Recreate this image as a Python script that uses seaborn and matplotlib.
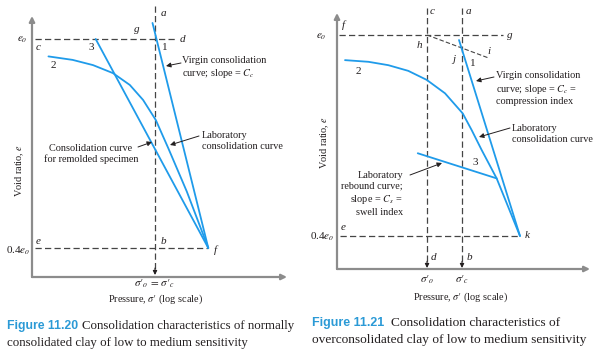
import matplotlib
matplotlib.use("Agg")
import matplotlib.pyplot as plt
import seaborn as sns

sns.set_style("white")
plt.rcParams["font.family"] = ["Liberation Serif", "DejaVu Serif"]
plt.rcParams["mathtext.fontset"] = "stix"

BLUE = "#1f9bea"
GRAY = "#8c8c8c"
DASH = "#454545"
INK = "#231f20"
CAP = "#2b9ad6"

# ---------------- data: Figure 11.20 (normally consolidated) ----------------
nc_pressure_lab = [8.6, 15, 24, 38, 56, 76, 102, 136, 208, 341]
nc_void_lab = [0.95, 0.94, 0.925, 0.902, 0.868, 0.825, 0.767, 0.686, 0.562, 0.40]
nc_pressure_virgin = [94.4, 341]
nc_void_virgin = [1.046, 0.40]
nc_pressure_remold = [25.5, 341]
nc_void_remold = [1.0, 0.40]
nc_sigma_c = 100
nc_e0 = 1.0
nc_e_low = 0.4

# ---------------- data: Figure 11.21 (overconsolidated) ----------------
oc_pressure_lab = [6.76, 11.6, 18.3, 29.0, 44.4, 67.6, 101.6, 125, 157, 222, 380]
oc_void_lab = [0.925, 0.920, 0.910, 0.893, 0.866, 0.826, 0.766, 0.716, 0.657, 0.572, 0.40]
oc_pressure_rebound = [36.1, 222]
oc_void_rebound = [0.647, 0.572]
oc_pressure_virgin = [93.3, 380]
oc_void_virgin = [0.985, 0.40]
oc_pressure_hi = [44.7, 186]
oc_void_hi = [1.0, 0.931]
oc_sigma_o = 44.7
oc_sigma_c = 100
oc_e0 = 1.0
oc_e_low = 0.4

W, H = 604, 357
fig = plt.figure(figsize=(W / 100, H / 100), dpi=100)

ANN = 7.4
LET = 8


def F(x, y):
    return (x / W, 1 - y / H)


def T(x, y, s, size=ANN, ha="center", va="center", **kw):
    fig.text(x / W, 1 - y / H, s, size=size, ha=ha, va=va, color=INK, **kw)


def arrow(x0, y0, x1, y1):
    fig.add_artist(matplotlib.patches.FancyArrowPatch(
        F(x0, y0), F(x1, y1), transform=fig.transFigure,
        arrowstyle="-|>", mutation_scale=7, color=INK, lw=0.7,
        shrinkA=0, shrinkB=0))


def setup(ax, xlim, ylim):
    ax.set_xscale("log")
    ax.set_xlim(*xlim)
    ax.set_ylim(*ylim)
    for s in ax.spines.values():
        s.set_visible(False)
    ax.set_xticks([])
    ax.set_yticks([])
    ax.minorticks_off()
    ax.patch.set_alpha(0)
    ap = dict(arrowstyle="-|>", color=GRAY, lw=1.6, mutation_scale=8,
              shrinkA=0, shrinkB=0)
    ax.annotate("", xy=(0, 1), xytext=(0, 0), xycoords="axes fraction",
                arrowprops=ap)
    ax.annotate("", xy=(1, 0), xytext=(0, 0), xycoords="axes fraction",
                arrowprops=ap)


def vline_arrow(ax, x, ytop, ytip):
    ax.plot([x, x], [ytop, ytip + 0.018], ls=(0, (5, 2.6)), color=DASH,
            lw=0.9, clip_on=False)
    ax.annotate("", xy=(x, ytip), xytext=(x, ytip + 0.02),
                arrowprops=dict(arrowstyle="-|>", color=INK, lw=0.8,
                                mutation_scale=6, shrinkA=0, shrinkB=0),
                annotation_clip=False)


def finish(ax):
    for l in ax.lines:
        l.set_clip_on(False)
    ax.set_xlabel("")
    ax.set_ylabel("")


SIG_O = r"$\sigma\prime_o$"
SIG_C = r"$\sigma\prime_c$"
SIG = r"$\sigma\prime$"

# ---------------- left panel ----------------
axL = fig.add_axes([32 / W, 1 - 277 / H, 255 / W, 261 / H])
setup(axL, (5.888, 2089), (0.3167, 1.066))
axL.plot([6.3, 162], [nc_e0, nc_e0], ls=(0, (5, 2.6)), color=DASH, lw=0.9)
axL.plot([6.3, nc_pressure_lab[-1]], [nc_e_low, nc_e_low], ls=(0, (5, 2.6)),
         color=DASH, lw=0.9)
vline_arrow(axL, nc_sigma_c, 1.095, 0.3224)
sns.lineplot(x=nc_pressure_lab, y=nc_void_lab, sort=False, estimator=None,
             color=BLUE, lw=1.3, ax=axL)
sns.lineplot(x=nc_pressure_virgin, y=nc_void_virgin, sort=False,
             estimator=None, color=BLUE, lw=1.3, ax=axL)
sns.lineplot(x=nc_pressure_remold, y=nc_void_remold, sort=False,
             estimator=None, color=BLUE, lw=1.3, ax=axL)
finish(axL)

T(22, 40, r"$e_o$", size=LET)
T(30, 251, r"0.4$e_o$", size=LET, ha="right")
for (x, y, s) in [(38, 47, "c"), (137, 30, "g"), (163, 14, "a"), (182, 39, "d"),
                  (38, 241, "e"), (163, 241, "b"), (215, 250, "f")]:
    T(x, y, s, size=LET, style="italic")
for (x, y, s) in [(91, 47, "3"), (53, 65, "2"), (165, 48, "1")]:
    T(x, y, s, size=LET)
T(182, 68, "Virgin consolidation\ncurve; slope = $C_c$", ha="left",
  linespacing=1.25)
arrow(181, 63, 166, 66)
T(202, 141, "Laboratory\nconsolidation curve", ha="left", linespacing=1.2)
arrow(199, 136, 170, 145)
T(91, 154, "Consolidation curve\nfor remolded specimen", linespacing=1.25)
arrow(138, 147, 152, 142)
T(20, 170, "Void ratio, $e$", rotation=90)
T(155, 284, r"$\sigma\prime_o\,=\,\sigma\prime_c$", size=LET)
T(155, 299, "Pressure, " + SIG + " (log scale)")

# ---------------- right panel ----------------
axR = fig.add_axes([337 / W, 1 - 269 / H, 253 / W, 256 / H])
setup(axR, (5.62, 1905), (0.3015, 1.0657))
axR.plot([5.9, 257], [oc_e0, oc_e0], ls=(0, (5, 2.6)), color=DASH, lw=0.9)
axR.plot([6.03, oc_pressure_lab[-1]], [oc_e_low, oc_e_low],
         ls=(0, (5, 2.6)), color=DASH, lw=0.9)
axR.plot(oc_pressure_hi, oc_void_hi, ls=(0, (4, 2)), color=DASH, lw=0.8)
vline_arrow(axR, oc_sigma_o, 1.081, 0.3045)
vline_arrow(axR, oc_sigma_c, 1.081, 0.3045)
sns.lineplot(x=oc_pressure_lab, y=oc_void_lab, sort=False, estimator=None,
             color=BLUE, lw=1.3, ax=axR)
sns.lineplot(x=oc_pressure_rebound, y=oc_void_rebound, sort=False,
             estimator=None, color=BLUE, lw=1.3, ax=axR)
sns.lineplot(x=oc_pressure_virgin, y=oc_void_virgin, sort=False,
             estimator=None, color=BLUE, lw=1.3, ax=axR)
finish(axR)

T(321, 37, r"$e_o$", size=LET)
T(334, 237, r"0.4$e_o$", size=LET, ha="right")
for (x, y, s) in [(343, 25, "f"), (432, 12, "c"), (468, 12, "a"), (510, 35, "g"),
                  (419, 46, "h"), (454, 59, "j"), (489, 52, "i"),
                  (343, 228, "e"), (527, 236, "k"), (433, 257, "d"),
                  (469, 257, "b")]:
    T(x, y, s, size=LET, style="italic")
for (x, y, s) in [(473, 63, "1"), (358, 72, "2"), (475, 163, "3")]:
    T(x, y, s, size=LET)
T(496, 89, "Virgin consolidation\ncurve; slope = $C_c$ =\ncompression index",
  ha="left", linespacing=1.25)
arrow(494, 77, 476, 81)
T(512, 134, "Laboratory\nconsolidation curve", ha="left", linespacing=1.25)
arrow(510, 128, 479, 137)
T(403, 194, "Laboratory\nrebound curve;\nslope = $C_s$ =\nswell index",
  ha="right", multialignment="right", linespacing=1.25)
arrow(410, 175, 442, 163)
T(325, 142, "Void ratio, $e$", rotation=90)
T(427, 280, SIG_O, size=LET)
T(462, 280, SIG_C, size=LET)
T(460, 297, "Pressure, " + SIG + " (log scale)")

# ---------------- captions ----------------
CAPS = 9.3
fig.text(7 / W, 1 - 326 / H, "Figure 11.20", family="Liberation Sans",
         weight="bold", size=8.8, color=CAP, va="center")
T(82, 326, "Consolidation characteristics of normally", size=CAPS, ha="left")
T(7, 343, "consolidated clay of low to medium sensitivity", size=CAPS, ha="left")
fig.text(312 / W, 1 - 323 / H, "Figure 11.21", family="Liberation Sans",
         weight="bold", size=9.0, color=CAP, va="center")
T(391, 323, "Consolidation characteristics of", size=9.6, ha="left")
T(312, 340, "overconsolidated clay of low to medium sensitivity", size=9.6,
  ha="left")

fig.savefig("out.png", dpi=100)
